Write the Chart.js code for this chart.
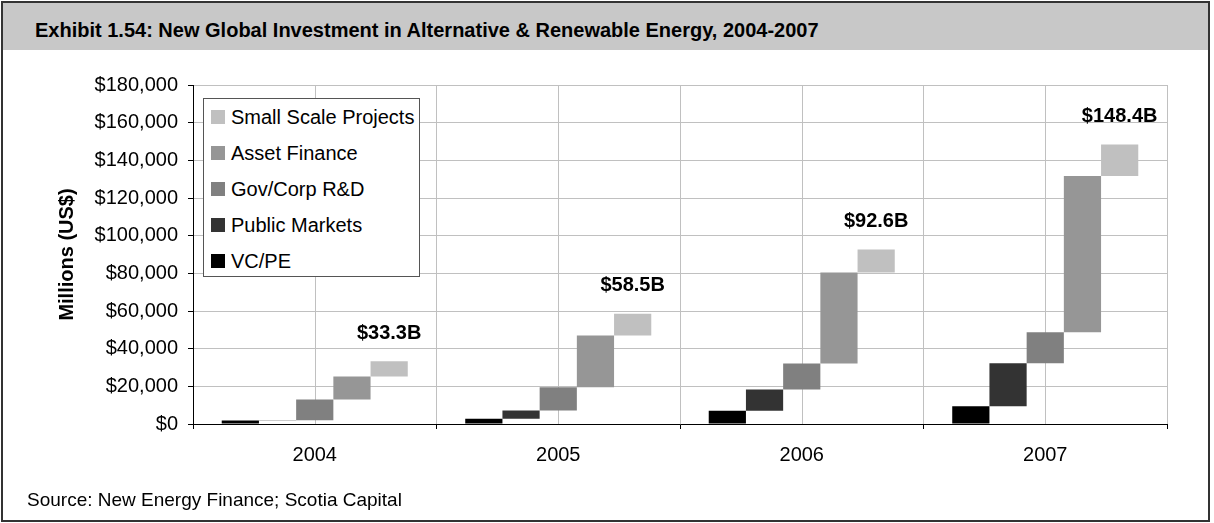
<!DOCTYPE html>
<html>
<head>
<meta charset="utf-8">
<script src="https://cdn.jsdelivr.net/npm/chart.js@4.4.0/dist/chart.umd.min.js"></script>
<style>
  body { margin: 0; width: 1214px; height: 523px; overflow: hidden; background: #fff; font-family: "Liberation Sans", Arial, sans-serif; }
  #frame { position: absolute; left: 1px; top: 1px; width: 1209px; height: 521px; border: 2px solid #333; box-sizing: border-box; background: #fff; }
  #titleBand { position: absolute; left: 3px; top: 3px; width: 1205px; height: 47px; background: #c8c8c8; }
  #title { position: absolute; left: 35px; top: 18px; font-weight: bold; font-size: 20px; line-height: 24px; color: #000; }
  #source { position: absolute; left: 27px; top: 489px; font-size: 19px; line-height: 22px; color: #000; }
  #chart { position: absolute; left: 0; top: 0; }
  #legend { position: absolute; left: 203px; top: 98px; width: 217px; height: 179px; border: 1px solid #555; background: #fff; box-sizing: border-box; }
  #legend .row { height: 36px; display: flex; align-items: center; font-size: 20px; color: #000; }
  #legend .sw { width: 14px; height: 14px; margin-left: 7px; margin-right: 6px; }
</style>
</head>
<body>
<div id="frame"></div>
<div id="titleBand"></div>
<div id="title">Exhibit 1.54: New Global Investment in Alternative &amp; Renewable Energy, 2004-2007</div>
<canvas id="chart" width="1214" height="523"></canvas>
<div id="legend"></div>
<div id="source">Source: New Energy Finance; Scotia Capital</div>
<script>
// dados (milhões de US$), incremento de cada categoria por ano
const years = ["2004", "2005", "2006", "2007"];
const vcPe = [1900, 2800, 7100, 9400];
const publicMarkets = [100, 4400, 11200, 22900];
const govCorpRnd = [11000, 12300, 13800, 16400];
const assetFinance = [12200, 27500, 48400, 83000];
const smallScale = [8100, 11500, 12100, 16700];
const totalLabels = ["$33.3B", "$58.5B", "$92.6B", "$148.4B"];

const seriesNames = ["VC/PE", "Public Markets", "Gov/Corp R&D", "Asset Finance", "Small Scale Projects"];
const seriesColors = ["#000000", "#333333", "#808080", "#969696", "#c0c0c0"];

const yMax = 180000;
const yStep = 20000;

const fontFamily = '"Liberation Sans", Arial, sans-serif';
Chart.defaults.font.family = fontFamily;

// barras flutuantes (cascata): cada série começa onde a anterior termina
const running = years.map(() => 0);
const datasets = [vcPe, publicMarkets, govCorpRnd, assetFinance, smallScale].map((vals, i) => {
  const data = vals.map((v, j) => {
    const start = running[j];
    running[j] += v;
    return [start, running[j]];
  });
  return {
    label: seriesNames[i],
    data: data,
    backgroundColor: seriesColors[i],
    borderWidth: 0,
    categoryPercentage: 0.764,
    barPercentage: 1.0
  };
});

// linhas de grade no meio de cada categoria
const midGridPlugin = {
  id: "midGrid",
  beforeDatasetsDraw(chart) {
    const { ctx, chartArea, scales } = chart;
    ctx.save();
    ctx.strokeStyle = "#c0c0c0";
    ctx.lineWidth = 1;
    years.forEach((y, i) => {
      const x = Math.round(scales.x.getPixelForValue(i)) + 0.5;
      ctx.beginPath();
      ctx.moveTo(x, chartArea.top);
      ctx.lineTo(x, chartArea.bottom);
      ctx.stroke();
    });
    ctx.restore();
  }
};

// totais acima da última barra de cada ano
const totalsPlugin = {
  id: "totals",
  afterDatasetsDraw(chart) {
    const { ctx } = chart;
    const meta = chart.getDatasetMeta(chart.data.datasets.length - 1);
    ctx.save();
    ctx.font = "bold 20px " + fontFamily;
    ctx.fillStyle = "#000";
    ctx.textAlign = "center";
    ctx.textBaseline = "middle";
    meta.data.forEach((bar, i) => {
      ctx.fillText(totalLabels[i], bar.x, bar.y - 28);
    });
    ctx.restore();
  }
};

const chart = new Chart(document.getElementById("chart"), {
  type: "bar",
  data: { labels: years, datasets: datasets },
  options: {
    responsive: false,
    animation: false,
    layout: { padding: { left: 50, top: 85, right: 47, bottom: 39 } },
    plugins: {
      legend: { display: false },
      tooltip: { enabled: false }
    },
    scales: {
      x: {
        offset: true,
        grid: { offset: true, color: "#c0c0c0", tickColor: "#000", tickLength: 5 },
        border: { color: "#000", width: 1 },
        ticks: { color: "#000", font: { size: 20 }, padding: 14 },
        afterFit: s => { s.height = 60; }
      },
      y: {
        min: 0,
        max: yMax,
        grid: { color: "#c0c0c0", tickColor: "#000", tickLength: 5 },
        border: { color: "#000", width: 1 },
        ticks: {
          stepSize: yStep,
          color: "#000",
          font: { size: 20 },
          padding: 10,
          callback: v => "$" + v.toLocaleString("en-US")
        },
        title: {
          display: true,
          text: "Millions (US$)",
          color: "#000",
          font: { size: 20, weight: "bold" },
          padding: { top: 5, bottom: 0 }
        },
        afterFit: s => { s.width = 143; }
      }
    }
  },
  plugins: [midGridPlugin, totalsPlugin]
});

// legenda em ordem inversa, como no original
const legendEl = document.getElementById("legend");
chart.data.datasets.slice().reverse().forEach(ds => {
  const row = document.createElement("div");
  row.className = "row";
  const sw = document.createElement("span");
  sw.className = "sw";
  sw.style.background = ds.backgroundColor;
  const txt = document.createElement("span");
  txt.textContent = ds.label;
  row.appendChild(sw);
  row.appendChild(txt);
  legendEl.appendChild(row);
});
</script>
</body>
</html>
